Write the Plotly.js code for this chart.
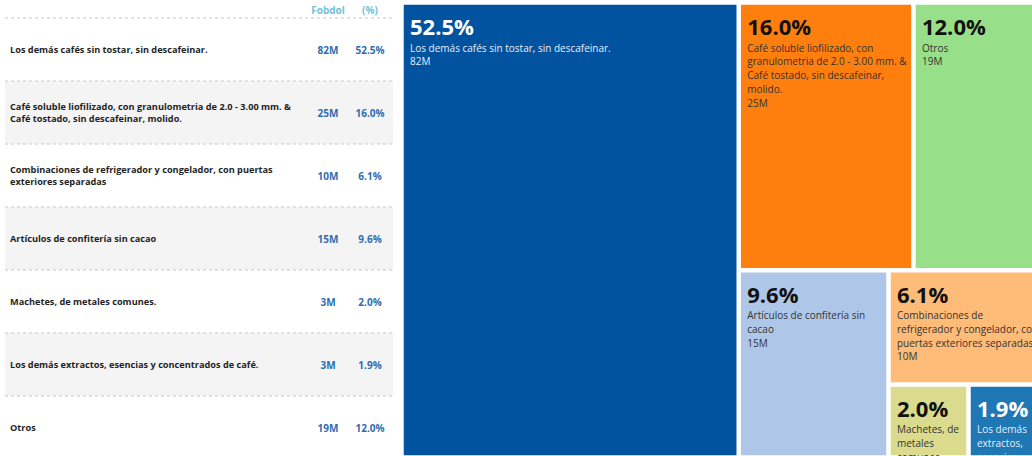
<!DOCTYPE html>
<html><head><meta charset="utf-8">
<script src="https://cdn.plot.ly/plotly-3.0.1.min.js"></script>
<style>html,body{margin:0;padding:0;overflow:hidden;background:#fff;}#chart{width:1080px;height:500px;}</style>
</head><body><div id="chart"></div>
<script>
// ---- data (table order) ----
const categories = [
  "Los demás cafés sin tostar, sin descafeinar.",
  "Café soluble liofilizado, con granulometria de 2.0 - 3.00 mm. & Café tostado, sin descafeinar, molido.",
  "Combinaciones de refrigerador y congelador, con puertas exteriores separadas",
  "Artículos de confitería sin cacao",
  "Machetes, de metales comunes.",
  "Los demás extractos, esencias y concentrados de café.",
  "Otros"
];
const tableLabels = [
  "Los demás cafés sin tostar, sin descafeinar.",
  "Café soluble liofilizado, con granulometria de 2.0 - 3.00 mm. &<br>Café tostado, sin descafeinar, molido.",
  "Combinaciones de refrigerador y congelador, con puertas<br>exteriores separadas",
  "Artículos de confitería sin cacao",
  "Machetes, de metales comunes.",
  "Los demás extractos, esencias y concentrados de café.",
  "Otros"
];
const tileLabels = [
  "Los demás cafés sin tostar, sin descafeinar.",
  "Café soluble liofilizado, con<br>granulometria de 2.0 - 3.00 mm. &<br>Café tostado, sin descafeinar,<br>molido.",
  "Combinaciones de<br>refrigerador y congelador, con<br>puertas exteriores separadas",
  "Artículos de confitería sin<br>cacao",
  "Machetes, de<br>metales<br>comunes.",
  "Los demás<br>extractos,<br>esencias y<br>concentrados<br>de café.",
  "Otros"
];
const fobdolM = [82, 25, 10, 15, 3, 3, 19];
const sharePct = [52.5, 16.0, 6.1, 9.6, 2.0, 1.9, 12.0];
const headerLabels = ["Fobdol", "(%)"];
const tileColors = ["#01539f", "#ff7f0e", "#ffbb78", "#aec7e8", "#dbdb8d", "#1f77b4", "#98df8a"];
const tileIsDark = [true, false, false, false, false, true, false];

// ---- layout config ----
const W = 1080, H = 500;
const COL = {label: 10, value: 328, share: 370, left: 5, right: 393};
const ROW_TOP = 18, ROW_H = 63, HEADER_Y = 11, TEXT_NUDGE = 1.5;
const TM = {x0: 403, x1: 1043, y0: 4, y1: 456};
const PCT_SHIFT = {dx: 4, dy: 4}, LBL_SHIFT = {dx: 4, dy: 33.5};
const TM_LINE = 10.6; // sets the treemap text line spacing (1.3 x)
const n = categories.length;
const rowIdx = categories.map((_, i) => i);
const yTop = -0.5 - ROW_TOP / ROW_H;
const yBot = yTop + H / ROW_H;
const headerRow = -0.5 - (ROW_TOP - HEADER_Y) / ROW_H;
const rowY = rowIdx.map(i => i + TEXT_NUDGE / ROW_H);

const fontFam = "'Open Sans', sans-serif";
const fmtPct = v => v.toFixed(1) + "%";
const tmDomain = (s) => ({
  x: [(TM.x0 + s.dx) / W, (TM.x1 + s.dx) / W],
  y: [(H - TM.y1 - s.dy) / H, (H - TM.y0 - s.dy) / H]
});
const tmBase = {
  type: "treemap", labels: categories, parents: categories.map(() => ""), values: sharePct,
  sort: true, tiling: {packing: "squarify", squarifyratio: 1.618},
  pathbar: {visible: false}, hoverinfo: "skip", textposition: "top left"
};
const clearMarker = {colors: categories.map(() => "rgba(0,0,0,0)"), line: {width: 0}, pad: {t: 0, l: 0, r: 0, b: 0}};
const small = s => "<span style='font-size:10px'>" + s + "</span>";

const traces = [
  {type: "scatter", mode: "text", x: rowIdx.map(() => COL.label), y: rowY,
   text: tableLabels, textposition: "middle right",
   textfont: {family: fontFam, size: 9.2, weight: 700, color: "#1f1f1f"}, hoverinfo: "skip", showlegend: false},
  {type: "scatter", mode: "text", x: rowIdx.map(() => COL.value), y: rowY,
   text: fobdolM.map(v => v + "M"), textposition: "middle center",
   textfont: {family: fontFam, size: 10, weight: 700, color: "#2f6db0"}, hoverinfo: "skip", showlegend: false},
  {type: "scatter", mode: "text", x: rowIdx.map(() => COL.share), y: rowY,
   text: sharePct.map(fmtPct), textposition: "middle center",
   textfont: {family: fontFam, size: 10, weight: 700, color: "#2f6db0"}, hoverinfo: "skip", showlegend: false},
  {type: "scatter", mode: "text", x: [COL.value, COL.share], y: [headerRow, headerRow],
   text: headerLabels, textposition: "middle center",
   textfont: {family: fontFam, size: 10, weight: 700, color: "#74bfd8"}, hoverinfo: "skip", showlegend: false},
  Object.assign({}, tmBase, {
    textinfo: "none",
    marker: {colors: tileColors, line: {color: "#ffffff", width: 1.5}, pad: {t: 0, l: 0, r: 0, b: 0}},
    domain: tmDomain({dx: 0, dy: 0})}),
  Object.assign({}, tmBase, {
    customdata: sharePct.map(fmtPct),
    texttemplate: "<span style='font-size:22px'><b>%{customdata}</b></span>",
    textfont: {family: fontFam, size: TM_LINE, color: tileIsDark.map(d => d ? "#ffffff" : "#111111")},
    marker: clearMarker, domain: tmDomain(PCT_SHIFT)}),
  Object.assign({}, tmBase, {
    text: tileLabels.map(t => t.split("<br>").map(small).join("<br>")),
    customdata: fobdolM.map(v => small(v + "M")),
    texttemplate: "%{text}<br>%{customdata}",
    textfont: {family: fontFam, size: TM_LINE, color: tileIsDark.map(d => d ? "#e9eef6" : "#333333")},
    marker: clearMarker, domain: tmDomain(LBL_SHIFT)})
];

const shapes = [];
rowIdx.forEach(i => {
  if (i % 2 === 1) shapes.push({type: "rect", xref: "x", yref: "y", x0: COL.left, x1: COL.right,
    y0: i - 0.5, y1: i + 0.5, fillcolor: "#f4f4f4", line: {width: 0}, layer: "below"});
});
for (let i = 0; i < n; i++) {
  shapes.push({type: "line", xref: "x", yref: "y", x0: COL.left, x1: COL.right, y0: i - 0.5, y1: i - 0.5,
    line: {color: "#c8c8c8", width: 1, dash: "dot"}, layer: "below"});
}

const layout = {
  width: W, height: H, margin: {l: 0, r: 0, t: 0, b: 0},
  paper_bgcolor: "#ffffff", plot_bgcolor: "rgba(0,0,0,0)",
  font: {family: fontFam},
  xaxis: {domain: [0, 395 / W], range: [0, 395], visible: false, fixedrange: true},
  yaxis: {domain: [0, 1], range: [yBot, yTop], visible: false, fixedrange: true},
  uniformtext: {mode: "show", minsize: TM_LINE},
  shapes: shapes, showlegend: false
};
Plotly.newPlot("chart", traces, layout, {displayModeBar: false, staticPlot: true});
</script></body></html>
